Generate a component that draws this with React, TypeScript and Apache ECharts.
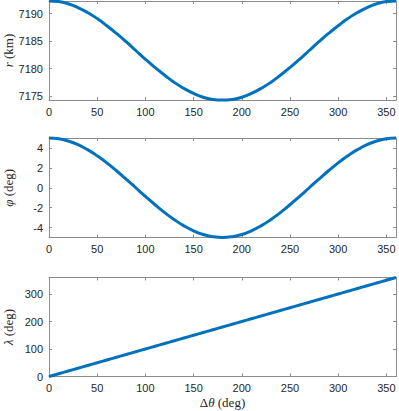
import React, { useEffect, useRef } from 'react';
import * as echarts from 'echarts';

const theta = [0, 10, 20, 30, 40, 50, 60, 70, 80, 90, 100, 110, 120, 130, 140, 150, 160, 170, 180,
  190, 200, 210, 220, 230, 240, 250, 260, 270, 280, 290, 300, 310, 320, 330, 340, 350, 360];
const rValues = [7192.3, 7192.2, 7191.8, 7191.1, 7190.2, 7189.1, 7187.8, 7186.4, 7184.9, 7183.3,
  7181.7, 7180.2, 7178.8, 7177.5, 7176.4, 7175.5, 7174.8, 7174.4, 7174.3,
  7174.4, 7174.8, 7175.5, 7176.4, 7177.5, 7178.8, 7180.2, 7181.7, 7183.3, 7184.9,
  7186.4, 7187.8, 7189.1, 7190.2, 7191.1, 7191.8, 7192.2, 7192.3];
const phiValues = [5.0, 4.92, 4.7, 4.33, 3.83, 3.21, 2.5, 1.71, 0.87, 0, -0.87, -1.71, -2.5, -3.21,
  -3.83, -4.33, -4.7, -4.92, -5.0, -4.92, -4.7, -4.33, -3.83, -3.21, -2.5, -1.71, -0.87, 0,
  0.87, 1.71, 2.5, 3.21, 3.83, 4.33, 4.7, 4.92, 5.0];
const lambdaValues = [0, 10, 20, 30, 40, 50, 60, 70, 80, 90, 100, 110, 120, 130, 140, 150, 160, 170, 180,
  190, 200, 210, 220, 230, 240, 250, 260, 270, 280, 290, 300, 310, 320, 330, 340, 350, 360];
const xTicks = [0, 50, 100, 150, 200, 250, 300, 350];
const rTicks = [7175, 7180, 7185, 7190];
const phiTicks = [-4, -2, 0, 2, 4];
const lambdaTicks = [0, 100, 200, 300];

const AX = '#8c8c8c';
const TXT = '#262626';
const SANS = "'Liberation Sans', Arial, sans-serif";
const SERIF = "'Liberation Serif', 'Times New Roman', serif";

function nameStyle() {
  return {
    color: TXT,
    fontFamily: SERIF,
    fontSize: 13,
    rich: {
      i: { fontStyle: 'italic', fontFamily: SERIF, fontSize: 13, color: TXT },
      n: { fontFamily: SERIF, fontSize: 13, color: TXT },
    },
  };
}

const fmt = (v: number) => String(v);

export default function App() {
  const ref = useRef<HTMLDivElement>(null);
  useEffect(() => {
    if (!ref.current) return;
    const chart = echarts.init(ref.current, null, { renderer: 'svg' });
    const panels = [
      { top: 1, height: 99, values: rValues, ticks: rTicks, min: 7174.3, max: 7192.3, name: '{i|r}{n| (km)}' },
      { top: 138, height: 99.5, values: phiValues, ticks: phiTicks, min: -5, max: 5, name: '{i|φ}{n| (deg)}' },
      { top: 277.5, height: 99, values: lambdaValues, ticks: lambdaTicks, min: 0, max: 360, name: '{i|λ}{n| (deg)}' },
    ];
    const grid: any[] = [];
    const xAxis: any[] = [];
    const yAxis: any[] = [];
    const series: any[] = [];
    const axisLine = { show: true, onZero: false, lineStyle: { color: AX, width: 1 } };
    panels.forEach((p, i) => {
      grid.push({ left: 49, top: p.top, width: 347, height: p.height, containLabel: false, outerBoundsMode: 'none' });
      xAxis.push({
        type: 'value', gridIndex: i, position: 'bottom', min: 0, max: 360,
        axisLine,
        axisTick: { show: true, inside: true, length: 3, customValues: xTicks, lineStyle: { color: AX } },
        axisLabel: { show: true, customValues: xTicks, formatter: fmt, color: TXT, fontFamily: SANS, fontSize: 11, margin: 6 },
        splitLine: { show: false },
        name: i === 2 ? '{n|Δ}{i|θ}{n| (deg)}' : '',
        nameLocation: 'middle',
        nameGap: 19,
        nameMoveOverlap: false,
        nameTextStyle: nameStyle(),
      });
      xAxis.push({
        type: 'value', gridIndex: i, position: 'top', min: 0, max: 360,
        axisLine,
        axisTick: { show: true, inside: true, length: 3, customValues: xTicks, lineStyle: { color: AX } },
        axisLabel: { show: false },
        splitLine: { show: false },
      });
      yAxis.push({
        type: 'value', gridIndex: i, position: 'left', min: p.min, max: p.max,
        axisLine,
        axisTick: { show: true, inside: true, length: 3, customValues: p.ticks, lineStyle: { color: AX } },
        axisLabel: { show: true, customValues: p.ticks, formatter: fmt, color: TXT, fontFamily: SANS, fontSize: 11, margin: 6 },
        splitLine: { show: false },
        name: p.name,
        nameLocation: 'middle',
        nameGap: 34,
        nameRotate: 90,
        nameMoveOverlap: false,
        nameTextStyle: nameStyle(),
      });
      yAxis.push({
        type: 'value', gridIndex: i, position: 'right', min: p.min, max: p.max,
        axisLine,
        axisTick: { show: true, inside: true, length: 3, customValues: p.ticks, lineStyle: { color: AX } },
        axisLabel: { show: false },
        splitLine: { show: false },
      });
      series.push({
        type: 'line',
        xAxisIndex: 2 * i,
        yAxisIndex: 2 * i,
        data: theta.map((t, k) => [t, p.values[k]]),
        smooth: true,
        showSymbol: false,
        symbol: 'none',
        clip: false,
        lineStyle: { color: '#0072BD', width: 3 },
      });
    });
    chart.setOption({
      animation: false,
      backgroundColor: '#ffffff',
      grid,
      xAxis,
      yAxis,
      series,
    });
    return () => chart.dispose();
  }, []);
  return <div ref={ref} style={{ position: 'absolute', left: 0, top: 0, width: 399, height: 411 }} />;
}
